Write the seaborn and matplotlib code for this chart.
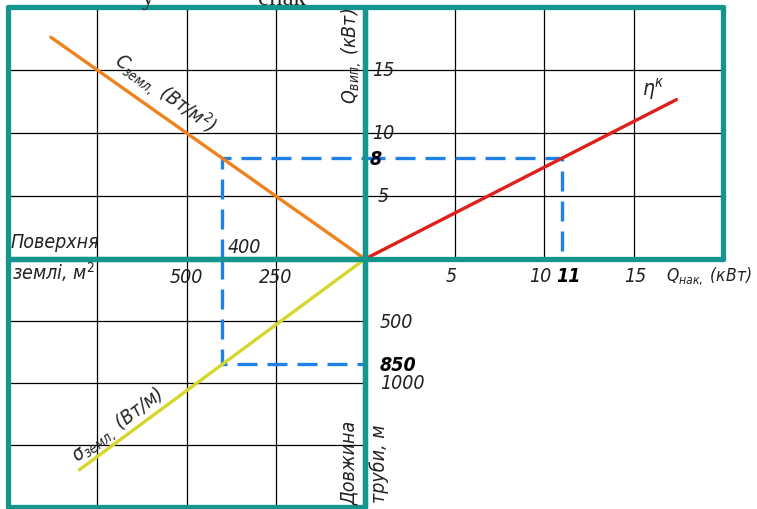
import matplotlib
matplotlib.use("Agg")
import matplotlib.pyplot as plt
import seaborn as sns

sns.set_theme(style="white")
plt.rcParams["font.family"] = ["DejaVu Sans"]
plt.rcParams["font.stretch"] = "condensed"
plt.rcParams["mathtext.fontset"] = "dejavusans"
plt.rcParams["mathtext.default"] = "it"

# working point
SURFACE = 400      # поверхня землі, м2
Q_VIP = 8          # Q вип, кВт
Q_NAK = 11         # Q нак, кВт
PIPE_LEN = 850     # довжина труби, м

# nomogram lines, each starts at the origin
c_area = [0, 880]
c_qvip = [0, 17.6]
eta_qnak = [0, 17.4]
eta_qvip = [0, 12.65]
sigma_area = [0, 800]
sigma_len = [0, 1700]

area_ticks = [250, 500, 750]
area_labels = [500, 250]
q_ticks = [5, 10, 15]
len_ticks = [500, 1000, 1500]
len_labels = [500, 1000]

TEAL = "#14968e"
ORANGE = "#f0821e"
RED = "#e01e1a"
YELLOW = "#d6d62c"
BLUE = "#1f80e6"
DASH = (0, (6, 3))
TXT = dict(fontsize=14, fontstyle="italic", fontstretch="condensed", color="#222222")
BOLD = dict(fontsize=14, fontstyle="italic", fontstretch="condensed", fontweight="bold", color="black")

W, H = 757, 510
fig = plt.figure(figsize=(W / 100, H / 100), dpi=100)


def rect(x0, y0, x1, y1):
    return [x0 / W, 1 - y1 / H, (x1 - x0) / W, (y1 - y0) / H]


ax_tl = fig.add_axes(rect(8, 8, 365, 260))
ax_tr = fig.add_axes(rect(365, 8, 723, 260))
ax_bl = fig.add_axes(rect(8, 260, 365, 508))
ax_br = fig.add_axes(rect(365, 260, 723, 508))


def quadrant(ax, xticks, yticks, spines=("left", "right", "top", "bottom")):
    ax.set_xticks(xticks)
    ax.set_yticks(yticks)
    ax.tick_params(length=0, labelbottom=False, labelleft=False)
    ax.grid(True, color="black", lw=0.9)
    ax.set_axisbelow(True)
    for side, sp in ax.spines.items():
        if side in spines:
            sp.set_color(TEAL)
            sp.set_linewidth(3.8)
            sp.set_capstyle("round")
        else:
            sp.set_visible(False)
    ax.patch.set_alpha(0)


quadrant(ax_tl, area_ticks, q_ticks)
quadrant(ax_tr, q_ticks, q_ticks)
quadrant(ax_bl, area_ticks, len_ticks)
quadrant(ax_br, [], [], spines=("left",))

line_kw = dict(sort=False, estimator=None, lw=2.4)
dash_kw = dict(sort=False, estimator=None, lw=2.4, color=BLUE, linestyle=DASH)

# top-left: surface area -> Q вип
sns.lineplot(x=[SURFACE, SURFACE, 0], y=[0, Q_VIP, Q_VIP], ax=ax_tl, **dash_kw)
sns.lineplot(x=c_area, y=c_qvip, ax=ax_tl, color=ORANGE, **line_kw)
# top-right: Q вип -> Q нак
sns.lineplot(x=[0, Q_NAK, Q_NAK], y=[Q_VIP, Q_VIP, 0], ax=ax_tr, **dash_kw)
sns.lineplot(x=eta_qnak, y=eta_qvip, ax=ax_tr, color=RED, **line_kw)
# bottom-left: surface area -> pipe length
sns.lineplot(x=[SURFACE, SURFACE, 0], y=[0, PIPE_LEN, PIPE_LEN], ax=ax_bl, **dash_kw)
sns.lineplot(x=sigma_area, y=sigma_len, ax=ax_bl, color=YELLOW, **line_kw)

ax_tl.set_xlim(1000, 0)
ax_tl.set_ylim(0, 20)
ax_tr.set_xlim(0, 20)
ax_tr.set_ylim(0, 20)
ax_bl.set_xlim(1000, 0)
ax_bl.set_ylim(2000, 0)
ax_br.set_xlim(0, 20)
ax_br.set_ylim(2000, 0)
for ax in (ax_tl, ax_tr, ax_bl, ax_br):
    ax.set_xlabel("")
    ax.set_ylabel("")

# labels, top-left
ax_tl.text(0.006, 0.068, "Поверхня", transform=ax_tl.transAxes, ha="left", va="center", **TXT)
ax_tl.annotate(str(SURFACE), xy=(SURFACE, 0), xytext=(4, 2), textcoords="offset points",
               ha="left", va="bottom", **TXT)
ax_tl.text(0.963, 0.81, r"$Q_{вип,}$ (кВт)", transform=ax_tl.transAxes, rotation=90,
           ha="center", va="center", **TXT)
ax_tl.text(560, 13.2, r"$C_{земл,}$ (Вт/м$^2$)", rotation=-36, rotation_mode="anchor",
           ha="center", va="center", **TXT)

# labels, top-right
for q in q_ticks:
    ax_tr.text(0.05, q, str(q), transform=ax_tr.get_yaxis_transform(), ha="center", va="center", **TXT)
ax_tr.text(0.03, Q_VIP, str(Q_VIP), transform=ax_tr.get_yaxis_transform(), ha="center", va="center", **BOLD)
ax_tr.text(16.1, 13.6, r"$\eta^{к}$", ha="center", va="center", fontsize=15, color="#222222")

# labels, bottom-left
ax_bl.text(0.01, 0.95, "землі, м$^2$", transform=ax_bl.transAxes, ha="left", va="center", **TXT)
for a in area_labels:
    ax_bl.text(a, 0.93, str(a), transform=ax_bl.get_xaxis_transform(), ha="center", va="center", **TXT)
ax_bl.text(690, 1340, r"$\sigma_{земл,}$ (Вт/м)", rotation=37, rotation_mode="anchor",
           ha="center", va="center", **TXT)
ax_bl.text(0.958, 0.18, "Довжина", transform=ax_bl.transAxes, rotation=90,
           ha="center", va="center", **TXT)

# labels, bottom-right
ax_br.text(q_ticks[0] - 0.2, 0.935, str(q_ticks[0]), transform=ax_br.get_xaxis_transform(),
           ha="center", va="center", **TXT)
ax_br.text(q_ticks[1] + 0.4, 0.935, str(q_ticks[1]), transform=ax_br.get_xaxis_transform(),
           ha="right", va="center", **TXT)
ax_br.text(q_ticks[2] + 0.1, 0.935, str(q_ticks[2]), transform=ax_br.get_xaxis_transform(),
           ha="center", va="center", **TXT)
ax_br.text(Q_NAK - 0.3, 0.935, str(Q_NAK), transform=ax_br.get_xaxis_transform(),
           ha="left", va="center", **BOLD)
ax_br.text(16.8, 0.935, r"$Q_{нак,}$ (кВт)", transform=ax_br.get_xaxis_transform(),
           ha="left", va="center", clip_on=False,
           **{**TXT, "fontsize": 12.5})
for l in len_labels:
    ax_br.text(0.042, l, str(l), transform=ax_br.get_yaxis_transform(), ha="left", va="center", **TXT)
ax_br.text(0.042, PIPE_LEN, str(PIPE_LEN), transform=ax_br.get_yaxis_transform(),
           ha="left", va="center", **BOLD)
ax_br.text(0.04, 0.18, "труби, м", transform=ax_br.transAxes, rotation=90,
           ha="center", va="center", **TXT)

# caption cut off by the top edge
fig.text(148 / W, 1 - 5 / H, "у", family="Liberation Serif", fontsize=18, va="baseline", ha="center")
fig.text(282 / W, 1 - 5 / H, "енак", family="Liberation Serif", fontsize=18, va="baseline", ha="center")

fig.savefig("out.png", dpi=100)
